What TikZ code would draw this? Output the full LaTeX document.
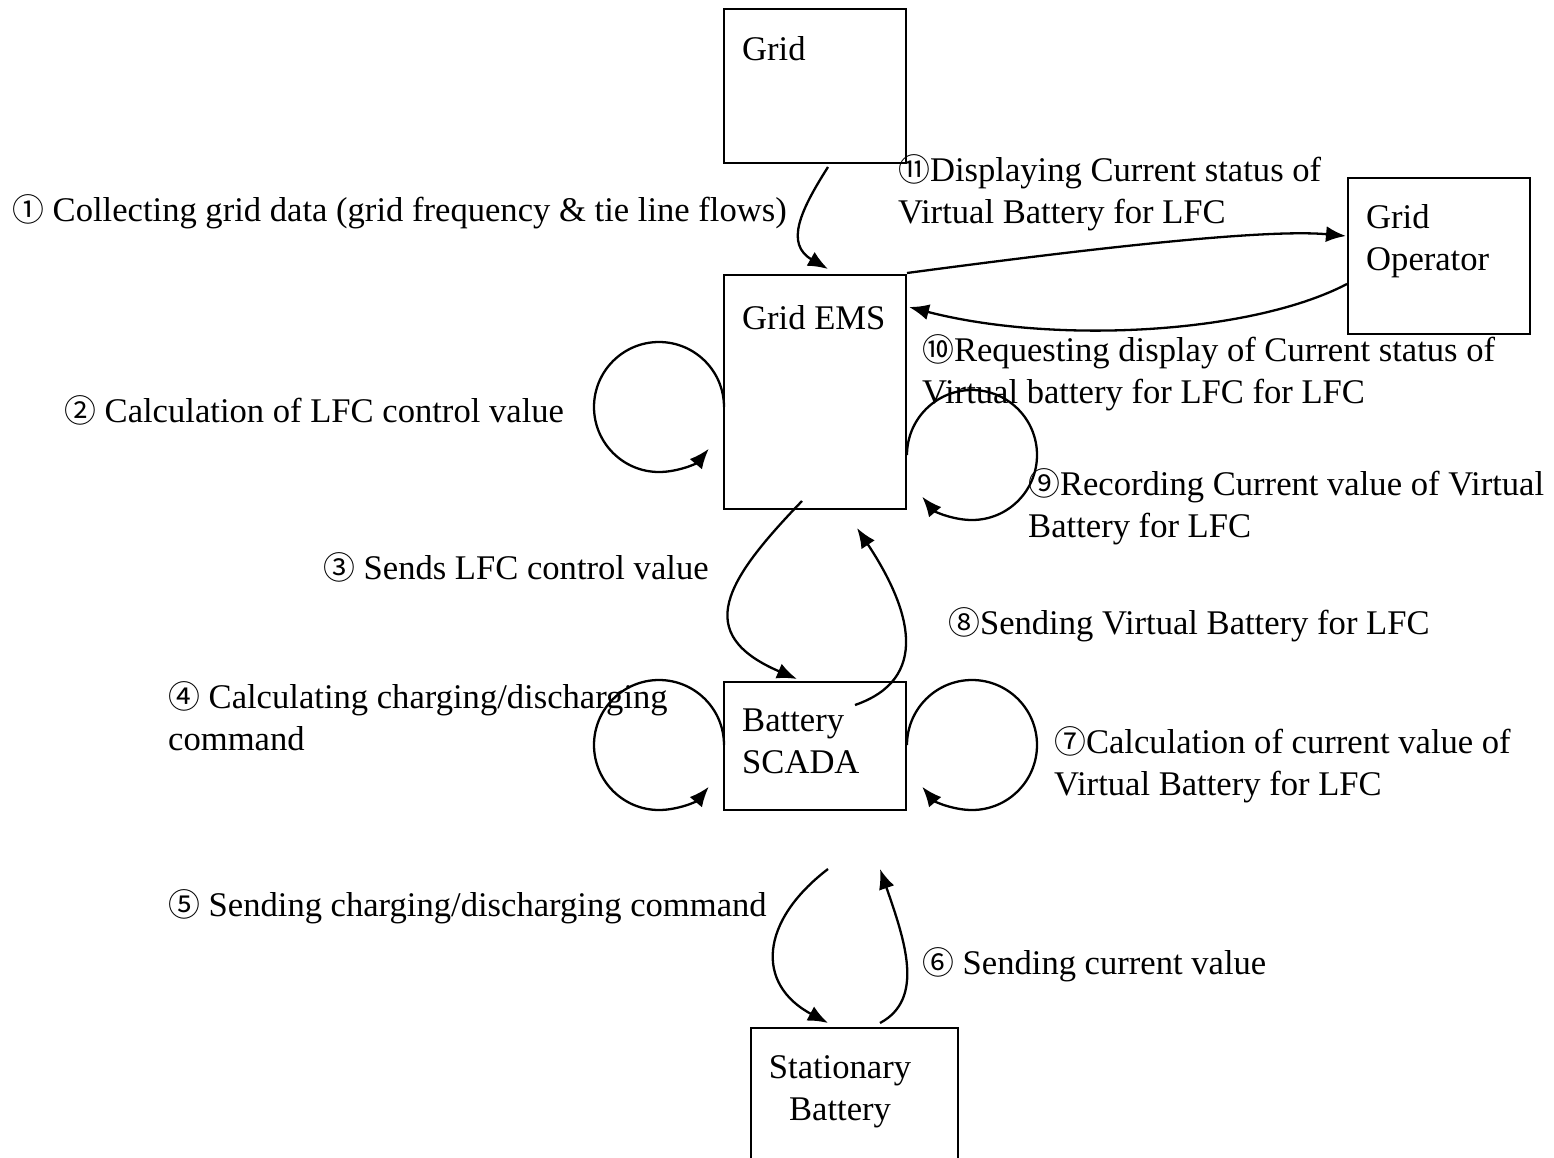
\documentclass[tikz,border=0pt]{standalone}
\usepackage{fontspec}
\setmainfont{Liberation Serif}
\newfontfamily\circfont[Scale=0.92]{Noto Sans CJK SC}
\newcommand{\cnum}[1]{{\circfont #1}}
\usetikzlibrary{arrows.meta}
\begin{document}
\begin{tikzpicture}[x=1pt,y=-1pt,
  font=\fontsize{34.6}{42}\selectfont,
  boxnode/.style={draw, line width=2pt, inner sep=0pt},
  conn/.style={line width=2.3pt, -{Latex[length=20pt,width=16pt]}},
  lbl/.style={anchor=base west, inner sep=0pt, align=left}]
\useasboundingbox (0,0) rectangle (1554,1158);
\fill[white] (0,0) rectangle (1554,1158);
% boxes
\node[boxnode, minimum width=182pt, minimum height=154pt] (grid) at (815,86) {};
\node[boxnode, minimum width=182pt, minimum height=234pt] (ems) at (815,392) {};
\node[boxnode, minimum width=182pt, minimum height=156pt] (op) at (1439,256) {};
\node[boxnode, minimum width=182pt, minimum height=128pt] (scada) at (815,746) {};
\node[boxnode, minimum width=207pt, minimum height=144pt] (stat) at (854.5,1100) {};
% box texts (base anchor = baseline of the last line)
\node[lbl] (tgrid) at (742,61) {Grid};
\node[lbl] (tems) at (742,329) {Grid EMS};
\node[lbl] (top) at (1366,270) {Grid\\Operator};
\node[lbl] (tscada) at (742,773) {Battery\\SCADA};
\node[anchor=base, inner sep=0pt, align=center] (tstat) at (840,1120) {Stationary\\Battery};
% labels
\node[lbl] (l1) at (12,222) {\cnum{①} Collecting grid data (grid frequency \& tie line flows)};
\node[lbl] (l2) at (64,422) {\cnum{②} Calculation of LFC control value};
\node[lbl] (l3) at (323,579) {\cnum{③} Sends LFC control value};
\node[lbl] (l4) at (168,750) {\cnum{④} Calculating charging/discharging\\command};
\node[lbl] (l5) at (168,916) {\cnum{⑤} Sending charging/discharging command};
\node[lbl] (l6) at (922,974) {\cnum{⑥} Sending current value};
\node[lbl] (l7) at (1054,795) {\cnum{⑦}Calculation of current value of\\Virtual Battery for LFC};
\node[lbl] (l8) at (948,634) {\cnum{⑧}Sending Virtual Battery for LFC};
\node[lbl] (l9) at (1028,537) {\cnum{⑨}Recording Current value of Virtual\\Battery for LFC};
\node[lbl] (l10) at (922,403) {\cnum{⑩}Requesting display of Current status of\\Virtual battery for LFC for LFC};
\node[lbl] (l11) at (898,224) {\cnum{⑪}Displaying Current status of\\Virtual Battery for LFC};
% connectors
\draw[conn] ([shift={(13,3)}]grid.south) .. controls +(-28,44) and +(-43,-25) .. ([shift={(13,-5)}]ems.north);
\draw[conn] ([shift={(1,15)}]ems.west) arc[start angle=0, end angle=320, radius=65pt];
\draw[conn] ([shift={(-13,-9)}]ems.south) .. controls +(-77,80) and +(-105,-45) .. ([shift={(-18,-2)}]scada.north);
\draw[conn] ([shift={(1,-1)}]scada.west) arc[start angle=0, end angle=320, radius=65pt];
\draw[conn] ([shift={(13,58)}]scada.south) .. controls +(-68,52) and +(-73,-39) .. ([shift={(-26.5,-4)}]stat.north);
\draw[conn] ([shift={(25.5,-4)}]stat.north) .. controls +(45,-24) and +(25,72) .. ([shift={(65,58)}]scada.south);
\draw[conn] ([shift={(0,-1)}]scada.east) arc[start angle=180, end angle=-140, radius=65pt];
\draw[conn] ([shift={(40,24)}]scada.north) .. controls +(75,-26) and +(55,83) .. ([shift={(42,18)}]ems.south);
\draw[conn] ([shift={(0,63)}]ems.east) arc[start angle=180, end angle=-140, radius=65pt];
\draw[conn] ([shift={(0,28)}]op.west) .. controls +(-98,51) and +(142,37) .. ([shift={(2,33)}]ems.north east);
\draw[conn] ([shift={(0,-1)}]ems.north east) .. controls +(150,-20) and +(-87,-8) .. ([shift={(-1,-20)}]op.west);
\end{tikzpicture}
\end{document}
